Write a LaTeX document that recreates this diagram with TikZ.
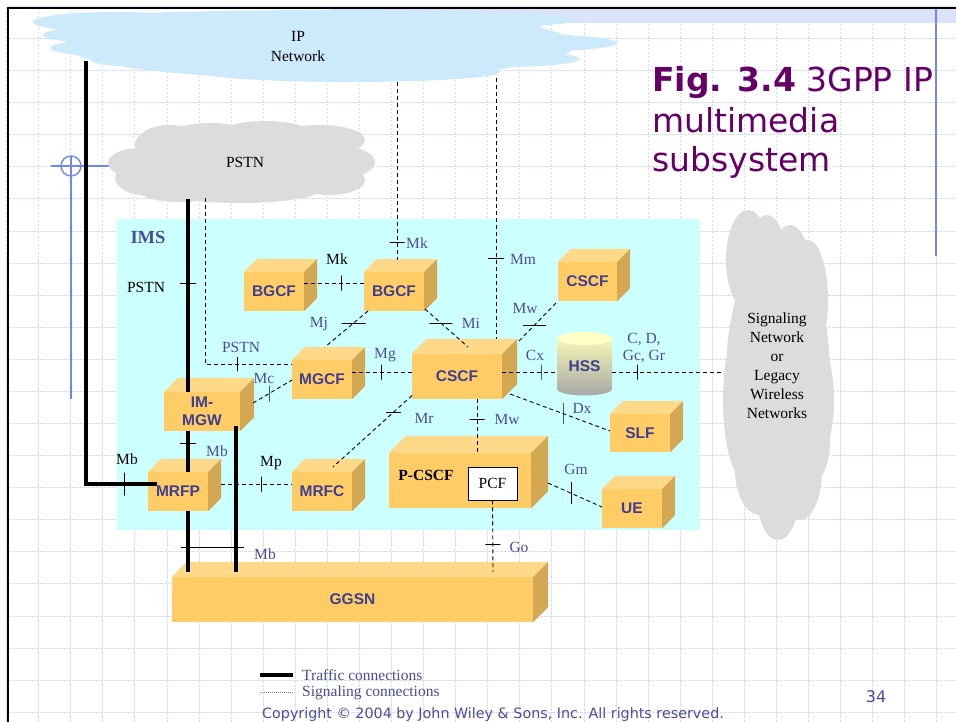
\documentclass[tikz,border=0pt]{standalone}
\usepackage{fontspec}
\setmainfont{Liberation Serif}
\setsansfont{Liberation Sans}
\newfontfamily\titlefont{DejaVu Sans}
\definecolor{gridc}{HTML}{D3DCF9}
\definecolor{bandc}{HTML}{DCE3F8}
\definecolor{imsc}{HTML}{CCFFFF}
\definecolor{ipc}{HTML}{CCEAFB}
\definecolor{cloudgray}{HTML}{DCDCDC}
\definecolor{boxfront}{HTML}{FFCC66}
\definecolor{boxtop}{HTML}{FFD98A}
\definecolor{boxside}{HTML}{D4A853}
\definecolor{boxtext}{HTML}{3F3F8F}
\definecolor{labblue}{HTML}{4B4B9B}
\definecolor{titlec}{HTML}{660066}
\definecolor{crossc}{HTML}{6F88EA}
\definecolor{hsstop}{HTML}{FFFFB8}
\definecolor{hssmid}{HTML}{E2E2B4}
\definecolor{hssbot}{HTML}{A8A8A8}
\definecolor{hsscap}{HTML}{FFFFC8}
\newcommand\cubeface[2]{%
  \fill[boxtop] (#1.north west) -- ++(#2,-#2) -- ([shift={(#2,-#2)}]#1.north east) -- (#1.north east) -- cycle;
  \fill[boxside] (#1.north east) -- ++(#2,-#2) -- ([shift={(#2,-#2)}]#1.south east) -- (#1.south east) -- cycle;
}
\begin{document}
\begin{tikzpicture}[x=1pt,y=-1pt,
  grid/.style={draw=gridc, line width=1pt, dash pattern=on 2.5pt off 1.5pt},
  sig/.style={line width=0.9pt, dash pattern=on 4pt off 3pt},
  traffic/.style={line width=4.5pt},
  tickv/.style={draw, solid, line width=0.9pt, inner sep=0pt, outer sep=0pt, minimum width=0pt, minimum height=#1},
  tickh/.style={draw, solid, line width=0.9pt, inner sep=0pt, outer sep=0pt, minimum height=0pt, minimum width=#1},
  cube/.style={fill=boxfront, inner sep=0pt, text=boxtext, align=center, font=\sffamily\bfseries\fontsize{15.5}{18}\selectfont},
  lab/.style={text=labblue, inner sep=0pt, font=\fontsize{15.5}{17}\selectfont, align=center},
  labk/.style={text=black, inner sep=0pt, font=\fontsize{15.5}{17}\selectfont, align=center},
  cloudtxt/.style={text=black, inner sep=0pt, align=center},
  ttl/.style={anchor=base west, text=titlec, inner sep=0pt, font=\titlefont\fontsize{33}{40}\selectfont}
]
\useasboundingbox (0,0) rectangle (956,722);
\fill[white] (0,0) rectangle (956,722);
% grid
\foreach \i in {0,...,29} { \draw[grid] ({6.6+32.08*\i},8) -- ({6.6+32.08*\i},722); }
\foreach \j in {0,...,22} { \draw[grid] (8,{6.5+32.08*\j}) -- (956,{6.5+32.08*\j}); }
\fill[bandc] (330,9.5) rectangle (956,23);
% borders
\draw[line width=2.5pt] (8,722) -- (8,8) -- (956,8);
\draw[crossc, line width=1.8pt] (936,9) -- (936,256);
% crosshair
\draw[crossc, line width=1.4pt] (71,166) circle [radius=10pt];
\draw[crossc, line width=1.4pt] (51,166) -- (112,166);
\draw[crossc, line width=1.4pt] (71,156) -- (71,399);
% IMS area
\fill[imsc] (117,219) rectangle (700,530);
% IP cloud
\fill[ipc] (320,45) ellipse [x radius=255pt, y radius=34pt]
  (330,20) ellipse [x radius=250pt, y radius=10pt]
  (115,22) ellipse [x radius=82pt, y radius=10pt]
  (120,35) ellipse [x radius=77pt, y radius=9pt]
  (125,48) ellipse [x radius=75pt, y radius=9pt]
  (170,60) ellipse [x radius=80pt, y radius=8pt]
  (470,25) ellipse [x radius=73pt, y radius=10pt]
  (520,43) ellipse [x radius=97pt, y radius=9pt]
  (500,59) ellipse [x radius=80pt, y radius=8pt]
  (350,72) ellipse [x radius=150pt, y radius=10pt];
% PSTN cloud
\fill[cloudgray] (242,163) ellipse [x radius=115pt, y radius=32pt]
  (140,163) ellipse [x radius=32pt, y radius=15pt]
  (150,178) ellipse [x radius=35pt, y radius=18pt]
  (170,145) ellipse [x radius=35pt, y radius=20pt]
  (210,135) ellipse [x radius=40pt, y radius=12pt]
  (265,133) ellipse [x radius=45pt, y radius=12pt]
  (320,140) ellipse [x radius=45pt, y radius=15pt]
  (345,162) ellipse [x radius=30pt, y radius=15pt]
  (330,180) ellipse [x radius=35pt, y radius=15pt]
  (240,190) ellipse [x radius=80pt, y radius=13pt]
  (180,192) ellipse [x radius=40pt, y radius=10pt];
% Signaling cloud
\fill[cloudgray] (778,375) ellipse [x radius=52pt, y radius=130pt]
  (748,260) ellipse [x radius=22pt, y radius=50pt]
  (767,265) ellipse [x radius=20pt, y radius=50pt]
  (790,280) ellipse [x radius=22pt, y radius=55pt]
  (808,300) ellipse [x radius=20pt, y radius=60pt]
  (815,400) ellipse [x radius=19pt, y radius=60pt]
  (745,400) ellipse [x radius=22pt, y radius=80pt]
  (760,470) ellipse [x radius=25pt, y radius=45pt]
  (778,490) ellipse [x radius=22pt, y radius=50pt]
  (800,470) ellipse [x radius=22pt, y radius=50pt]
  (815,440) ellipse [x radius=15pt, y radius=40pt];
\node[cloudtxt, font=\fontsize{15.5}{20}\selectfont] (ipnet) at (298,47) {IP\\Network};
\node[cloudtxt, font=\fontsize{15.5}{17}\selectfont] (pstn) at (245,162) {PSTN};
\node[cloudtxt, font=\fontsize{15.5}{19}\selectfont] (signet) at (777,366) {Signaling\\Network\\or\\Legacy\\Wireless\\Networks};
% title
\node[ttl] (t1) at (652,92) {\textbf{Fig. 3.4} 3GPP IP};
\node[ttl] (t2) at (652,133) {multimedia};
\node[ttl] (t3) at (652,172) {subsystem};
\node[text=labblue, inner sep=0pt, font=\bfseries\fontsize{18.5}{20}\selectfont] (ims) at (148,237) {IMS};
% boxes
\node[cube, minimum width=60pt, minimum height=39pt] (bgcfA) at (274,291.5) {BGCF}; \cubeface{bgcfA}{13}
\node[cube, minimum width=60pt, minimum height=39pt] (bgcfB) at (394,291.5) {BGCF}; \cubeface{bgcfB}{13}
\node[cube, minimum width=60pt, minimum height=39pt] (mgcf) at (322,379.5) {MGCF}; \cubeface{mgcf}{13}
\node[cube, minimum width=90pt, minimum height=45pt] (cscf) at (457,376.5) {CSCF}; \cubeface{cscf}{15}
\node[cube, minimum width=59pt, minimum height=39pt] (cscf2) at (587.5,281.5) {CSCF}; \cubeface{cscf2}{13}
\node[cube, minimum width=60pt, minimum height=38pt] (slf) at (640,433) {SLF}; \cubeface{slf}{13}
\node[cube, minimum width=60pt, minimum height=39pt] (ue) at (632,508.5) {UE}; \cubeface{ue}{13}
\node[cube, minimum width=76pt, minimum height=39pt] (immgw) at (202,411.5) {IM-\\MGW}; \cubeface{immgw}{14}
\node[cube, minimum width=60pt, minimum height=39pt] (mrfp) at (178,491.5) {MRFP}; \cubeface{mrfp}{13}
\node[cube, minimum width=60pt, minimum height=39pt] (mrfc) at (322,491.5) {MRFC}; \cubeface{mrfc}{13}
\node[cube, minimum width=142pt, minimum height=55pt] (pcscf) at (460,480.5) {}; \cubeface{pcscf}{17}
\node[text=black, inner sep=0pt, font=\bfseries\fontsize{15.5}{17}\selectfont] (pcscflab) at (426,475) {P-CSCF};
\node[draw, fill=white, line width=0.8pt, minimum width=49pt, minimum height=33pt, inner sep=0pt, font=\fontsize{15.5}{17}\selectfont] (pcf) at (492.5,483.5) {PCF};
\node[cube, minimum width=361pt, minimum height=45pt] (ggsn) at (352.5,599.5) {GGSN}; \cubeface{ggsn}{15}
% HSS cylinder
\shade[top color=hsstop, middle color=hssmid, bottom color=hssbot] (557,338.5) -- (557,389) arc[start angle=180,end angle=360,x radius=27.5pt,y radius=6.5pt] -- (612,338.5) arc[start angle=0,end angle=180,x radius=27.5pt,y radius=6.5pt] -- cycle;
\fill[hsscap] (584.5,338.5) ellipse [x radius=27.5pt, y radius=6.5pt];
\node[text=boxtext, inner sep=0pt, minimum width=55pt, minimum height=57pt, font=\sffamily\bfseries\fontsize{15.5}{18}\selectfont] (hss) at (584.5,366.5) {HSS};
% coordinates on clouds
\coordinate (ipT) at (86,61);
\coordinate (pstnT) at (188,199);
\coordinate (pstnS) at (205,198);
\coordinate (ipS1) at (397,82);
\coordinate (ipS2) at (496,78);
\coordinate (sigC) at (722,372);
% traffic connections
\draw[traffic] (ipT) |- node[tickv=23pt, pos=0.768]{} ([shift={(-21,-7.5)}]mrfp.center);
\draw[traffic] (pstnT) -- node[tickh=16pt, pos=0.44]{} (pstnT |- immgw.north);
\draw[traffic] (immgw.south -| pstnT) -- node[tickh=16pt, pos=0.29]{} (mrfp.north -| pstnT);
\draw[traffic] (mrfp.south -| pstnT) -- ([shift={(-164.5,-28)}]ggsn.center);
\draw[traffic] ([shift={(34,14)}]immgw.center) -- ([shift={(-116.5,-28)}]ggsn.center);
\draw[line width=0.9pt] (181,547) -- (244,547);
% signaling connections
\draw[sig] (pstnS) |- node[tickv=14pt, pos=0.684]{} ([shift={(-30,-15.5)}]mgcf.center);
\draw[sig] (ipS1) -- node[tickh=15pt, pos=0.904]{} ([shift={(3,-31.5)}]bgcfB.center);
\draw[sig] (ipS2) -- node[tickh=16pt, pos=0.693]{} ([shift={(39,-37.5)}]cscf.center);
\draw[sig] ([shift={(30,-8.5)}]bgcfA.center) -- node[tickv=15pt, pos=0.617]{} ([shift={(-30,-8.5)}]bgcfB.center);
\draw[sig] ([shift={(-26,19.5)}]bgcfB.center) -- node[tickh=24pt, pos=0.333]{} ([shift={(3,-32.5)}]mgcf.center);
\draw[sig] ([shift={(31,17.5)}]bgcfB.center) -- node[tickh=23pt, pos=0.368]{} ([shift={(11,-29.5)}]cscf.center);
\draw[sig] ([shift={(30,-7.5)}]mgcf.center) -- node[tickv=15pt, pos=0.483]{} ([shift={(-45,-4.5)}]cscf.center);
\draw[sig] ([shift={(51,-8.5)}]immgw.center) -- node[tickv=16pt, pos=0.41]{} ([shift={(-30,0.5)}]mgcf.center);
\draw[sig] ([shift={(62,-35.5)}]cscf.center) -- node[tickh=23pt, pos=0.42]{} ([shift={(-31.5,21.5)}]cscf2.center);
\draw[sig] ([shift={(45,-4.5)}]cscf.center) -- node[tickv=15pt, pos=0.709]{} ([shift={(-27.5,5.5)}]hss.center);
\draw[sig] ([shift={(27.5,5.5)}]hss.center) -- node[tickv=15pt, pos=0.227]{} (sigC);
\draw[sig] ([shift={(53,17.5)}]cscf.center) -- node[tickv=21pt, pos=0.53]{} ([shift={(-30,-2)}]slf.center);
\draw[sig] ([shift={(20,22.5)}]cscf.center) -- node[tickh=15pt, pos=0.377]{} ([shift={(17,-28)}]pcscf.center);
\draw[sig] ([shift={(-45,19)}]cscf.center) -- node[tickh=15pt, pos=0.236]{} ([shift={(11,-24.5)}]mrfc.center);
\draw[sig] ([shift={(43,-7.5)}]mrfp.center) -- node[tickv=15pt, pos=0.563]{} ([shift={(-30,-7.5)}]mrfc.center);
\draw[sig] ([shift={(88,2.5)}]pcscf.center) -- node[tickv=22pt, pos=0.426]{} ([shift={(-30,-1.5)}]ue.center);
\draw[sig] (pcf.south) -- node[tickh=15pt, pos=0.611]{} ([shift={(140.5,-27.5)}]ggsn.center);
% labels
\node[lab] (lMk1) at (417,243) {Mk};
\node[lab] (lMm) at (523,259) {Mm};
\node[lab] (lMj) at (319,324) {Mj};
\node[lab] (lMi) at (471,323) {Mi};
\node[lab] (lMg) at (385,355) {Mg};
\node[lab] (lMc) at (264,379) {Mc};
\node[lab] (lMw1) at (525,309) {Mw};
\node[lab] (lCx) at (535,355) {Cx};
\node[lab] (lCD) at (644,348.5) {C, D,\\Gc, Gr};
\node[lab] (lDx) at (582,408) {Dx};
\node[lab] (lMw2) at (507,419) {Mw};
\node[lab] (lMr) at (424,418) {Mr};
\node[lab] (lGm) at (576,469) {Gm};
\node[lab] (lGo) at (519,547) {Go};
\node[lab] (lMb1) at (217,451) {Mb};
\node[lab] (lMb2) at (265,554) {Mb};
\node[lab] (lPSTN2) at (241,347) {PSTN};
\node[labk] (lMk2) at (337,259) {Mk};
\node[labk] (lPSTN1) at (146,287) {PSTN};
\node[labk] (lMb0) at (127,459) {Mb};
\node[labk] (lMp) at (271,463) {Mp};
% legend
\coordinate (lg1a) at (260,675); \coordinate (lg1b) at (293,675);
\coordinate (lg2a) at (260,692); \coordinate (lg2b) at (293,692);
\draw[line width=4.5pt] (lg1a) -- (lg1b);
\draw[gray, line width=0.7pt, dash pattern=on 1pt off 1pt] (lg2a) -- (lg2b);
\node[lab, anchor=west] (leg1) at (302,675) {Traffic connections};
\node[lab, anchor=west] (leg2) at (302,693) {Signaling connections};
\node[anchor=base west, text=labblue, inner sep=0pt, font=\titlefont\fontsize{14.3}{16}\selectfont] (copy) at (262,718) {Copyright © 2004 by John Wiley \& Sons, Inc. All rights reserved.};
\node[text=labblue, inner sep=0pt, font=\titlefont\fontsize{16}{18}\selectfont] (pg) at (876,697) {34};
\end{tikzpicture}
\end{document}
